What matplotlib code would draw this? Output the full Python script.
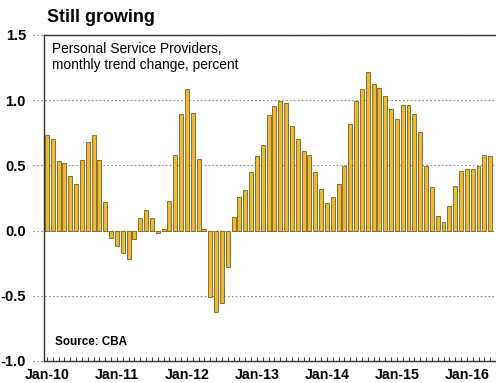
import matplotlib
matplotlib.use("Agg")
import matplotlib.pyplot as plt
import matplotlib.transforms as mtransforms
import numpy as np

plt.rcParams['font.family'] = ['Liberation Sans', 'DejaVu Sans']

# Monthly values Jan-10 .. May-16
values = [
    0.735, 0.70, 0.536, 0.518, 0.42, 0.36, 0.54, 0.68, 0.735, 0.54, 0.217, -0.056,   # 2010
    -0.115, -0.17, -0.217, -0.064, 0.094, 0.16, 0.10, -0.02, 0.015, 0.227, 0.578, 0.894,  # 2011
    1.083, 0.904, 0.552, 0.01, -0.509, -0.628, -0.552, -0.278, 0.104, 0.26, 0.314, 0.45,  # 2012
    0.572, 0.656, 0.886, 0.954, 0.992, 0.982, 0.80, 0.706, 0.608, 0.582, 0.447, 0.319,   # 2013
    0.208, 0.258, 0.354, 0.499, 0.815, 0.992, 1.086, 1.215, 1.122, 1.091, 1.035, 0.932,  # 2014
    0.853, 0.962, 0.962, 0.894, 0.757, 0.499, 0.332, 0.114, 0.063, 0.19, 0.339, 0.456,   # 2015
    0.473, 0.476, 0.499, 0.58, 0.572,                                                     # 2016
]
xlabels = ['Jan-10', 'Jan-11', 'Jan-12', 'Jan-13', 'Jan-14', 'Jan-15', 'Jan-16']
yticks = [-1.0, -0.5, 0.0, 0.5, 1.0, 1.5]
title = 'Still growing'
subtitle = 'Personal Service Providers,\nmonthly trend change, percent'
source = 'Source: CBA'

W, H = 496, 383
fig = plt.figure(figsize=(W / 100, H / 100), dpi=100)
ax = fig.add_axes([44 / W, (H - 361) / H, (W - 44) / W, (361 - 35) / H])

x = np.arange(len(values))
ax.bar(x, values, width=0.68, color='#EBB937', edgecolor='#7A5E1C', linewidth=0.6, zorder=3)

ax.set_xlim(-0.5, 77)
ax.set_ylim(-1.0, 1.5)

# dotted gridlines extending slightly left of the axis
trans = mtransforms.blended_transform_factory(ax.transAxes, ax.transData)
for y in yticks:
    ax.plot([-0.025, 1.0], [y, y], transform=trans, linestyle=(0, (1.5, 2)),
            color='#8a8a8a', linewidth=0.8, clip_on=False, zorder=1)

for s in ['right']:
    ax.spines[s].set_visible(False)
for s in ['left', 'top', 'bottom']:
    ax.spines[s].set_color('#333333')
    ax.spines[s].set_linewidth(1.0)
    ax.spines[s].set_zorder(4)

ax.set_yticks(yticks)
ax.set_yticklabels([f'{v:.1f}' for v in yticks], fontsize=10.5, fontweight='bold')
ax.tick_params(axis='y', length=0, pad=13)

ax.set_xticks(np.arange(0, len(values), 12))
ax.set_xticklabels(xlabels, fontsize=10.2, fontweight='bold')
ax.set_xticks(np.arange(0, 77), minor=True)
ax.tick_params(axis='x', which='both', direction='in', length=3, width=0.7, color='#333333', pad=5)

fig.text(47 / W, 1 - 18 / H, title, fontsize=12.9, fontweight='bold', va='center', ha='left')
fig.text(52 / W, 1 - 57 / H, subtitle, fontsize=9.9, va='center', ha='left', linespacing=1.2)
fig.text(55 / W, 1 - 342 / H, source, fontsize=8.4, fontweight='bold', va='center', ha='left')

fig.savefig('out.png', dpi=100)
